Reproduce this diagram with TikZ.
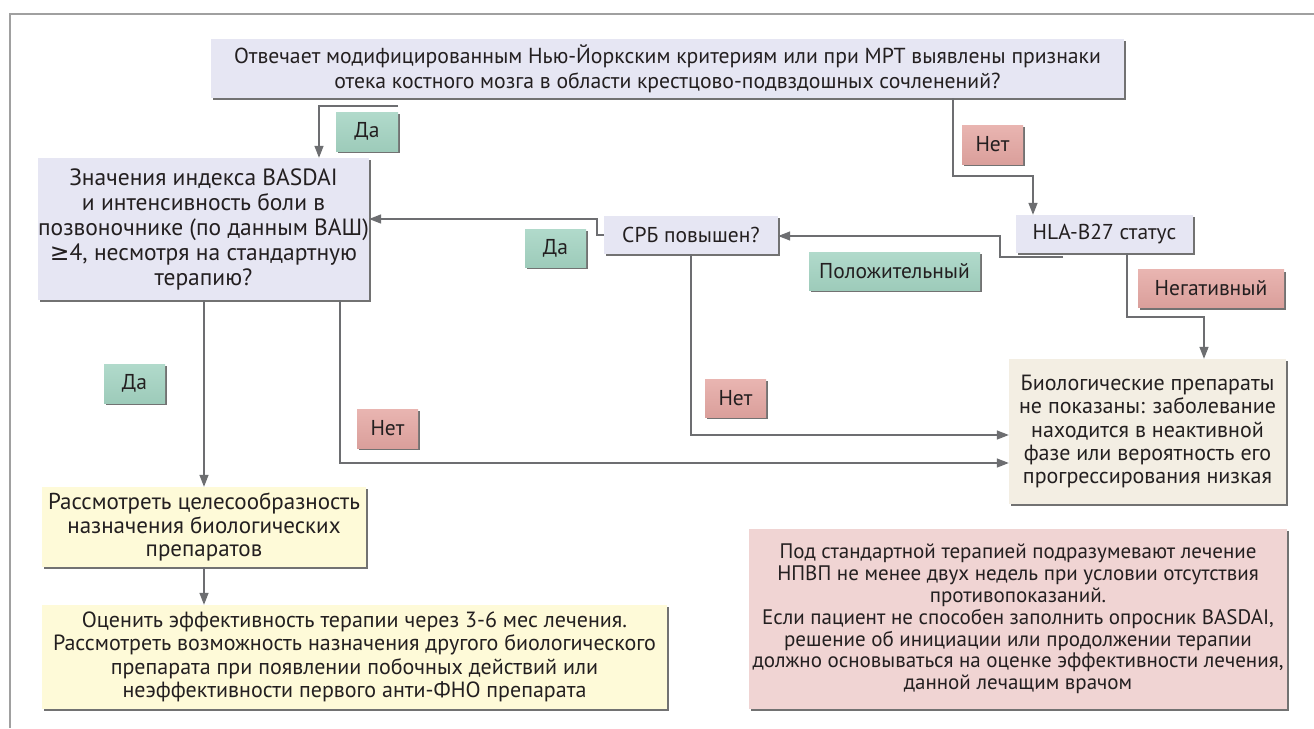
\documentclass[tikz,border=0pt]{standalone}
\usepackage{fontspec}
\setmainfont{PT Sans}
\newfontfamily\symfont{DejaVu Sans}
\usetikzlibrary{arrows.meta,shadows}

\definecolor{ink}{HTML}{231F20}
\definecolor{framecol}{HTML}{A0A0A0}
\definecolor{linecol}{HTML}{6D6E71}
\definecolor{shadecol}{HTML}{727272}
\definecolor{lav}{HTML}{E6E6F3}
\definecolor{cream}{HTML}{FEFAD8}
\definecolor{beige}{HTML}{F3EEE3}
\definecolor{rose}{HTML}{F0D4D3}
\definecolor{greenA}{HTML}{B1DACB}
\definecolor{greenB}{HTML}{9DCBBA}
\definecolor{redA}{HTML}{E9B5B1}
\definecolor{redB}{HTML}{DA9F9B}

\newcommand\fntTop{\fontsize{21.7}{24.5}\selectfont}
\newcommand\fntQ{\fontsize{23.5}{25}\selectfont}
\newcommand\fntLbl{\fontsize{21.5}{24}\selectfont}
\newcommand\fntOut{\fontsize{22}{23.4}\selectfont}
\newcommand\fntYel{\fontsize{23}{23.5}\selectfont}
\newcommand\fntWide{\fontsize{22}{23.3}\selectfont}
\newcommand\fntNote{\fontsize{21}{21.8}\selectfont}

\tikzset{
  boxbase/.style={inner sep=0pt, align=center, text=ink,
    general shadow={fill=shadecol, shadow xshift=2pt, shadow yshift=-2pt}},
  qbox/.style={boxbase, fill=lav, font=\fntLbl},
  ybox/.style={boxbase, fill=cream, font=\fntYel},
  bbox/.style={boxbase, fill=beige, font=\fntOut},
  nbox/.style={boxbase, fill=rose, font=\fntNote},
  yes/.style={boxbase, top color=greenA, bottom color=greenB, font=\fntLbl},
  no/.style={boxbase, top color=redA, bottom color=redB, font=\fntLbl},
  conn/.style={draw=linecol, line width=1.4pt},
  arrow/.style={conn, -{Triangle[length=12pt,width=9pt]}},
}

\begin{document}
\begin{tikzpicture}[x=1pt,y=-1pt]
\useasboundingbox (0,0) rectangle (1314,728);
\fill[white] (0,0) rectangle (1314,728);
\draw[framecol, line width=1.2pt] (1314,14) -- (10,14) -- (10,728);

% decision boxes
\node[qbox, font=\fntTop, minimum width=913, minimum height=59] (top) at (667.5,68.5)
  {Отвечает модифицированным Нью-Йоркским критериям или при МРТ выявлены признаки\\
   отека костного мозга в области крестцово-подвздошных сочленений?};
\node[qbox, font=\fntQ, minimum width=323, minimum height=142] (basdai) at (203.5,229)
  {Значения индекса BASDAI\\ и интенсивность боли в\\ позвоночнике (по данным ВАШ)\\
   {\symfont ≥}4, несмотря на стандартную\\ терапию?};
\node[qbox, minimum width=174, minimum height=38] (crp) at (691,235) {СРБ повышен?};
\node[qbox, minimum width=177, minimum height=38] (hla) at (1104.5,234) {HLA-B27 статус};

% outcome boxes
\node[bbox, minimum width=277, minimum height=145] (bio) at (1147.5,431.5)
  {Биологические препараты\\ не показаны: заболевание\\ находится в неактивной\\
   фазе или вероятность его\\ прогрессирования низкая};
\node[ybox, minimum width=324, minimum height=80] (y1) at (204,527)
  {Рассмотреть целесообразность\\ назначения биологических\\ препаратов};
\node[ybox, font=\fntWide, minimum width=625, minimum height=104] (y2) at (354.5,657)
  {Оценить эффективность терапии через 3-6 мес лечения.\\
   Рассмотреть возможность назначения другого биологического\\
   препарата при появлении побочных действий или\\
   неэффективности первого анти-ФНО препарата};
\node[nbox, minimum width=538, minimum height=180] (note) at (1018,619)
  {Под стандартной терапией подразумевают лечение\\
   НПВП не менее двух недель при условии отсутствия\\
   противопоказаний.\\
   Если пациент не способен заполнить опросник BASDAI,\\
   решение об инициации или продолжении терапии\\
   должно основываться на оценке эффективности лечения,\\
   данной лечащим врачом};

% branch labels
\node[yes, minimum width=62, minimum height=39] (da1) at (367,131.5) {Да};
\node[no, minimum width=61, minimum height=39] (net1) at (992.5,144.5) {Нет};
\node[yes, minimum width=61, minimum height=38] (da2) at (555.5,248) {Да};
\node[yes, minimum width=171, minimum height=38] (pos) at (894.5,271) {Положительный};
\node[no, minimum width=146, minimum height=38] (neg) at (1211,288.5) {Негативный};
\node[yes, minimum width=61, minimum height=39] (da3) at (134.5,383.5) {Да};
\node[no, minimum width=61, minimum height=38] (net2) at (735.5,398) {Нет};
\node[no, minimum width=61, minimum height=39] (net3) at (387.5,428.5) {Нет};

% bend points
\coordinate (ya) at (398,106);
\coordinate (xa) at (319,0);
\coordinate (xn) at (953,0);
\coordinate (bn) at (1033,176);
\coordinate (hp) at (1063,257);
\coordinate (bp) at (1000,236);
\coordinate (bd) at (597,219);
\coordinate (yc) at (0,435);
\coordinate (xb) at (340,0);
\coordinate (yb) at (0,463);
\coordinate (xh) at (1127,0);
\coordinate (bh) at (1204,317);

% connectors
\draw[arrow] (ya) -| (xa |- basdai.north);
\draw[arrow] (xn |- top.south) |- (bn) -- (bn |- hla.north);
\draw[arrow] (hp) -| (bp) -- (bp -| crp.east);
\draw[arrow] (crp.west) -| (bd) -- (bd -| basdai.east);
\draw[arrow] (crp.south) |- (yc -| bio.west);
\draw[arrow] (xb |- basdai.south) |- (yb -| bio.west);
\draw[arrow] (basdai.south -| y1.north) -- (y1.north);
\draw[arrow] (y1.south) -- (y2.north -| y1.south);
\draw[arrow] (xh |- hla.south) |- (bh) -- (bh |- bio.north);
\end{tikzpicture}
\end{document}
